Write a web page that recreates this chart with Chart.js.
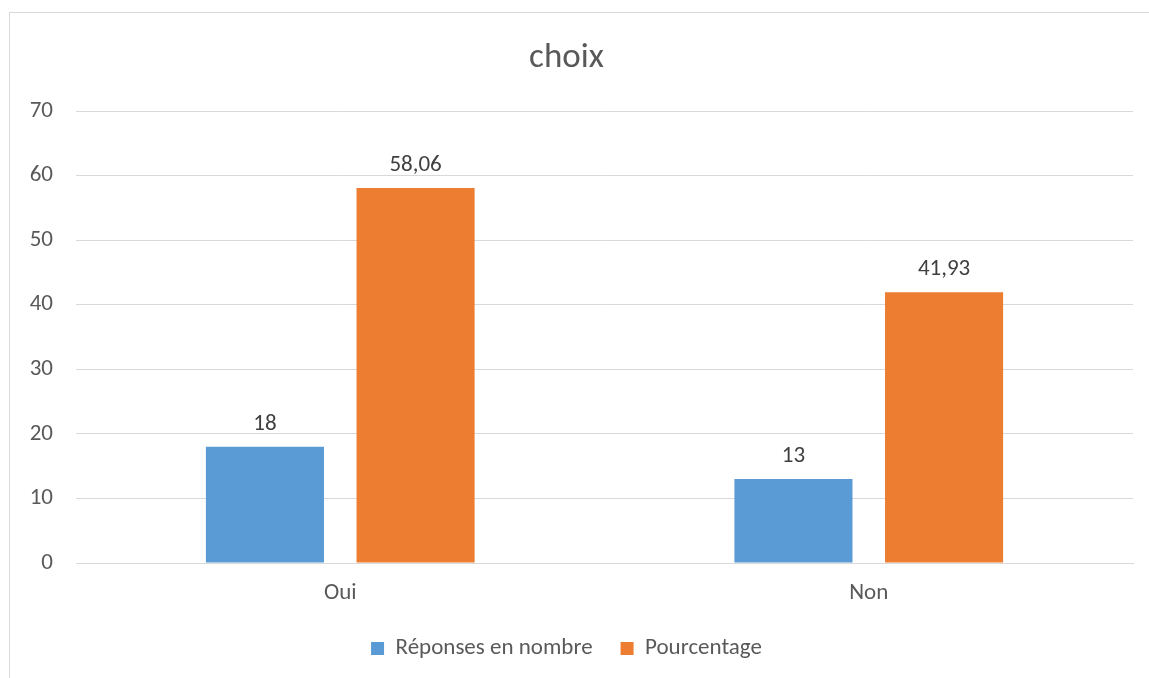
<!DOCTYPE html>
<html>
<head>
<meta charset="utf-8">
<script src="https://cdn.jsdelivr.net/npm/chart.js@4/dist/chart.umd.min.js"></script>
<style>
  html, body { margin: 0; padding: 0; background: #fff; }
  #wrap { position: relative; width: 1149px; height: 678px; }
  #frame { position: absolute; left: 9px; top: 12px; right: 0; bottom: 0;
           border-left: 1px solid #d9d9d9; border-top: 1px solid #d9d9d9; }
  canvas { position: absolute; left: 0; top: 0; }
</style>
</head>
<body>
<div id="wrap">
  <div id="frame"></div>
  <canvas id="myChart" width="1149" height="678"></canvas>
</div>
<script>
const categories = ['Oui', 'Non']
const reponses = [18, 13]
const pourcentage = [58.06, 41.93]
const seriesNames = ['Réponses en nombre', 'Pourcentage']

const fontFamily = 'Carlito, Lato, "Open Sans", sans-serif'

// draw the value above every bar, comma as decimal sign
const valueLabels = {
  id: 'valueLabels',
  afterDatasetsDraw (chart) {
    const ctx = chart.ctx
    ctx.save()
    ctx.font = `23px ${fontFamily}`
    ctx.fillStyle = '#404040'
    ctx.textAlign = 'center'
    ctx.textBaseline = 'alphabetic'
    chart.data.datasets.forEach((ds, i) => {
      chart.getDatasetMeta(i).data.forEach((bar, j) => {
        const txt = String(ds.data[j]).replace('.', ',')
        ctx.fillText(txt, bar.x, bar.y - 17)
      })
    })
    ctx.restore()
  }
}

const ctx = document.getElementById('myChart')
new Chart(ctx, {
  type: 'bar',
  data: {
    labels: categories,
    datasets: [{
      label: seriesNames[0],
      data: reponses,
      backgroundColor: '#5b9bd5',
      borderWidth: 0,
      barPercentage: 0.784,
      categoryPercentage: 0.57
    }, {
      label: seriesNames[1],
      data: pourcentage,
      backgroundColor: '#ed7d31',
      borderWidth: 0,
      barPercentage: 0.784,
      categoryPercentage: 0.57
    }]
  },
  options: {
    responsive: false,
    animation: false,
    layout: { padding: { top: 12, left: 0, right: 16, bottom: 8 } },
    plugins: {
      title: {
        display: true,
        text: 'choix',
        color: '#595959',
        font: { family: fontFamily, size: 35, weight: 'normal' },
        padding: { top: 25, bottom: 32 }
      },
      legend: {
        position: 'bottom',
        labels: {
          color: '#595959',
          font: { family: fontFamily, size: 23 },
          boxWidth: 13,
          boxHeight: 13,
          padding: 28
        }
      },
      tooltip: { enabled: false }
    },
    scales: {
      x: {
        grid: { display: false },
        border: { display: true, color: '#d9d9d9' },
        ticks: { color: '#595959', font: { family: fontFamily, size: 23 }, padding: 8 },
        afterFit (scale) { scale.height = 46 }
      },
      y: {
        min: 0,
        max: 70,
        ticks: { stepSize: 10, color: '#595959', font: { family: fontFamily, size: 23 }, padding: 23 },
        grid: { color: '#d9d9d9', drawTicks: false },
        border: { display: false },
        afterFit (scale) { scale.width = 76 }
      }
    }
  },
  plugins: [valueLabels]
})
</script>
</body>
</html>
